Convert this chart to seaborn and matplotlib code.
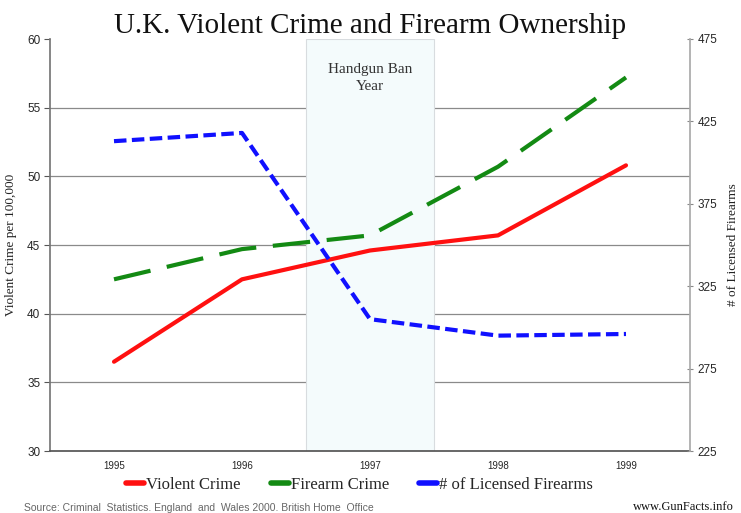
import matplotlib
matplotlib.use("Agg")
import matplotlib.pyplot as plt
import seaborn as sns
import pandas as pd
import numpy as np
from matplotlib.lines import Line2D

years = ["1995", "1996", "1997", "1998", "1999"]
violent_crime = [36.5, 42.5, 44.6, 45.7, 50.8]
firearm_crime = [42.5, 44.7, 45.7, 50.7, 57.2]
licensed_firearms = [413, 418, 305, 295, 296]

sns.set_theme(style="white")
plt.rcParams['font.family'] = ['Liberation Serif', 'DejaVu Serif']

fig = plt.figure(figsize=(7.41, 5.13), dpi=100)
ax = fig.add_axes([50/741, 1-451/513, 640/741, 412/513])
ax2 = ax.twinx()

df = pd.DataFrame({"x": np.arange(len(years)), "year": years,
                   "violent": violent_crime, "firearm": firearm_crime,
                   "licensed": licensed_firearms})

for v in [35, 40, 45, 50, 55]:
    ax.axhline(v, color="#8a8a8a", lw=0.9, zorder=0.3)
# shaded handgun ban band
ax.axvspan(1.5, 2.5, facecolor="#f4fbfc", edgecolor="#d8dcdf", lw=0.8, zorder=0.6)

sns.lineplot(data=df, x="x", y="violent", ax=ax, color="#ff1010", lw=3,
             label="Violent Crime", legend=False, zorder=3)
sns.lineplot(data=df, x="x", y="firearm", ax=ax, color="#138a13", lw=3,
             label="Firearm Crime", legend=False, zorder=3)
ax.lines[-1].set_dashes([9, 4])
sns.lineplot(data=df, x="x", y="licensed", ax=ax2, color="#1010ff", lw=3,
             label="# of Licensed Firearms", legend=False, zorder=3)
ax2.lines[-1].set_dashes([3, 1.3])

ax.set_xlim(-0.5, 4.5)
ax.set_ylim(30, 60)
ax2.set_ylim(225, 475)
ax.set_yticks(range(30, 61, 5))
ax2.set_yticks(range(225, 476, 50))

ax.set_xticks(range(len(years)))
ax.set_xticklabels(years, family=['Liberation Sans'], fontsize=7)
ax.set_xticks(np.arange(-0.5, 4.6, 1), minor=True)
ax.tick_params(axis="x", which="major", length=0, pad=7)
ax.tick_params(axis="x", which="minor", length=4, direction="in", color="#555555", width=0.8)
ax.tick_params(axis="y", length=4, direction="out", color="#555555", width=0.8,
               labelsize=8.5, left=True, pad=3)
ax2.tick_params(axis="y", length=5, direction="inout", color="#888888", width=0.8,
                labelsize=8.5, right=True, pad=3)
for lab in ax.get_yticklabels() + ax2.get_yticklabels():
    lab.set_family(['Liberation Sans'])

for a in (ax, ax2):
    a.spines["top"].set_visible(False)
ax.spines["right"].set_visible(False)
ax2.spines["left"].set_visible(False)
ax2.spines["bottom"].set_visible(False)
ax.spines["left"].set_color("#777777")
ax.spines["bottom"].set_color("#555555")
ax2.spines["right"].set_color("#aaaaaa")
ax.set_xlabel("")
ax.set_ylabel("Violent Crime per 100,000", fontsize=9.5, labelpad=7, color="#222222")
ax2.set_ylabel("# of Licensed Firearms", fontsize=9.5, labelpad=7, color="#222222")
ax.grid(False)
ax2.grid(False)

ax.text(2, 57.15, "Handgun Ban\nYear", ha="center", va="center", fontsize=11,
        color="#333333", linespacing=1.35, zorder=5)

fig.suptitle("U.K. Violent Crime and Firearm Ownership", y=0.975, fontsize=21,
             color="#111111")

h = [Line2D([0], [0], color="#ff1010", lw=4),
     Line2D([0], [0], color="#138a13", lw=4),
     Line2D([0], [0], color="#1010ff", lw=4)]
fig.legend(h, ["Violent Crime", "Firearm Crime", "# of Licensed Firearms"],
           loc="center", bbox_to_anchor=(0.485, 1-485/513), ncol=3, frameon=False,
           fontsize=12, handlelength=1.1, handletextpad=0.1, columnspacing=1.8)

fig.text(0.033, 1-508/513, "Source: Criminal  Statistics. England  and  Wales 2000. British Home  Office",
         family=['Liberation Sans'], fontsize=7.5, color="#666666", va="center")
fig.text(0.99, 1-507/513, "www.GunFacts.info", fontsize=9, color="#111111",
         ha="right", va="center")

fig.savefig("out.png", dpi=100)
